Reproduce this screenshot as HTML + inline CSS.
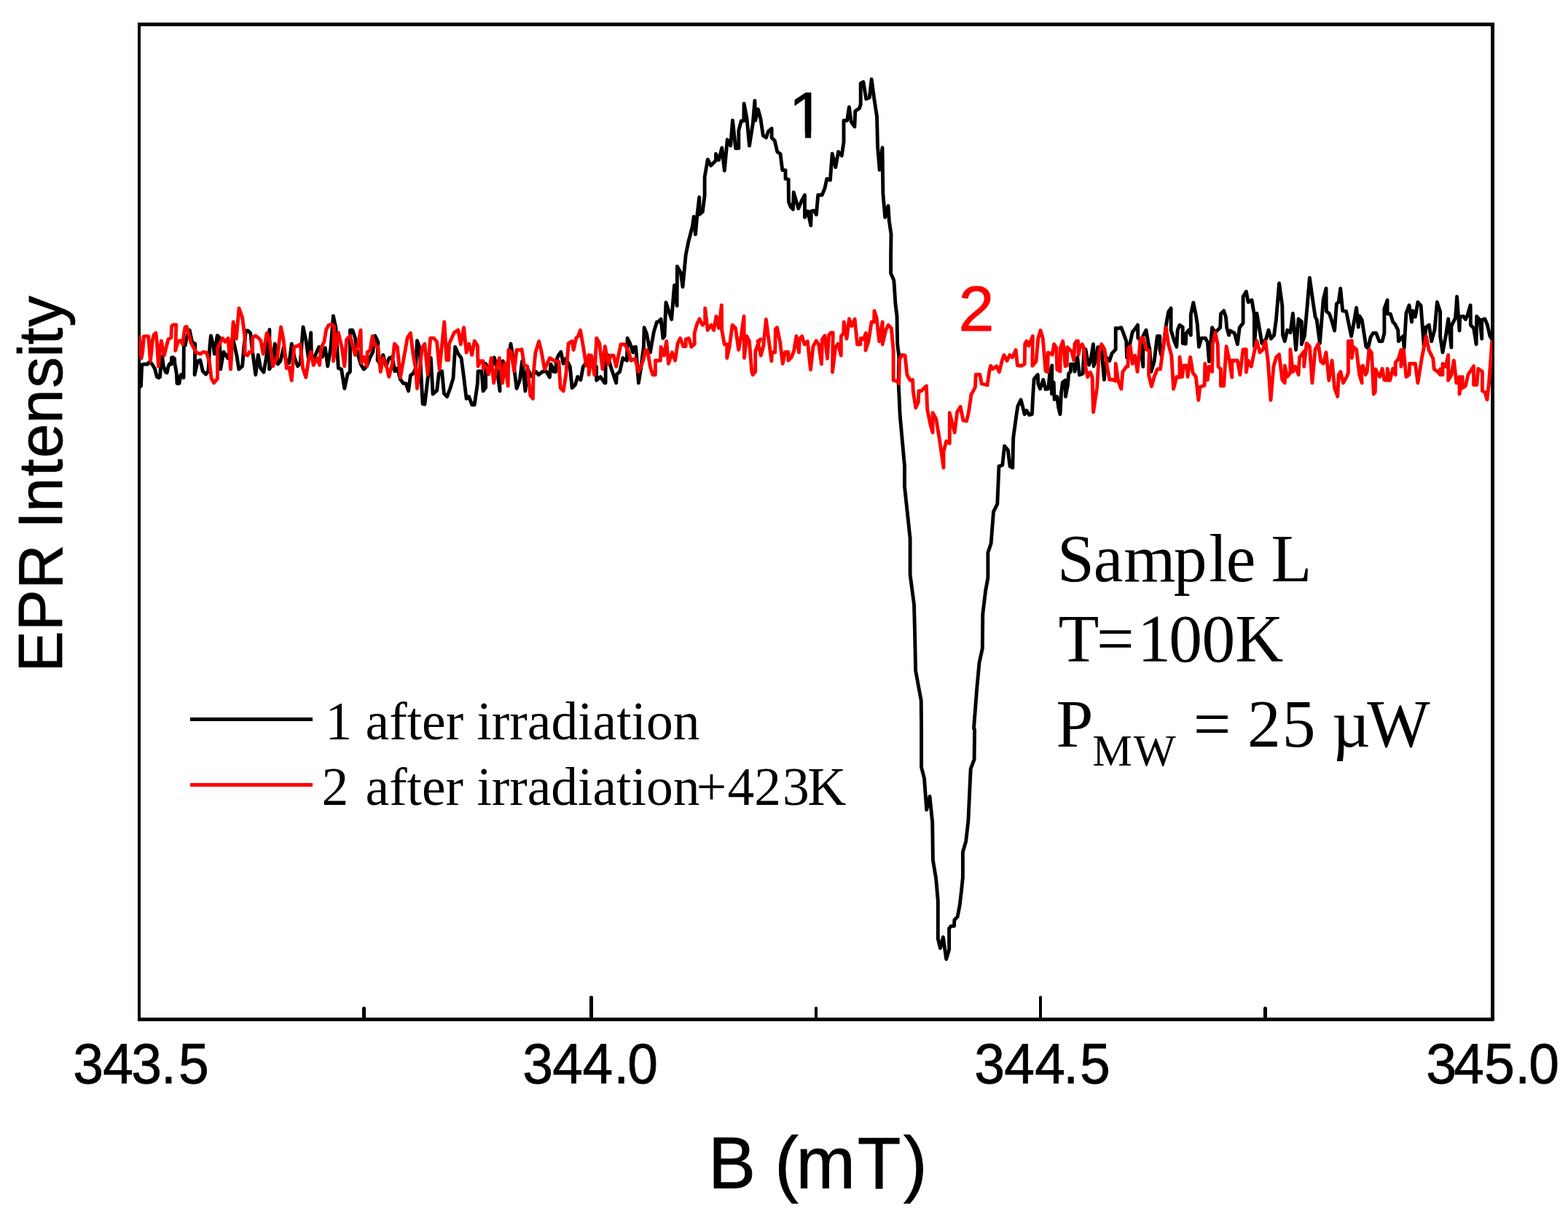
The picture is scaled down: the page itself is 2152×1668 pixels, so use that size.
<!DOCTYPE html>
<html lang="en"><head><meta charset="utf-8"><title>EPR Intensity vs B (mT)</title>
<style>
html,body{margin:0;padding:0;background:#fff;}
body{width:2152px;height:1668px;overflow:hidden;}
svg{display:block;}
text{white-space:pre;}
.sans{font-family:"Liberation Sans",Arial,Helvetica,sans-serif;stroke:currentColor;stroke-width:0.8px;stroke-linejoin:miter;}
.serif{font-family:"Liberation Serif","Times New Roman",Times,serif;}
</style></head>
<body>
<svg width="2152" height="1668" viewBox="0 0 2152 1668">
<rect width="2152" height="1668" fill="#fff"/>
<g fill="#000" shape-rendering="crispEdges">
<rect x="189" y="31" width="4" height="1371"/>
<rect x="189" y="31" width="1862" height="5"/>
<rect x="2046" y="31" width="5" height="1370"/>
<rect x="189" y="1397" width="1861" height="5"/>
<rect x="497" y="1383" width="5" height="15"/><rect x="498" y="1382" width="3" height="2"/><rect x="809" y="1368" width="5" height="30"/><rect x="810" y="1367" width="3" height="2"/><rect x="1118" y="1383" width="4" height="15"/><rect x="1119" y="1382" width="2" height="2"/><rect x="1426" y="1368" width="4" height="30"/><rect x="1427" y="1367" width="2" height="2"/><rect x="1734" y="1383" width="5" height="15"/><rect x="1735" y="1382" width="3" height="2"/>
<rect x="261" y="985" width="168" height="5"/>
<rect x="261" y="1075" width="168" height="5" fill="#f00"/>
</g>
<clipPath id="plot"><rect x="191" y="36" width="1857" height="1361"/></clipPath>
<g fill="none" stroke-linejoin="round" stroke-linecap="butt" stroke-width="4.9" clip-path="url(#plot)">
<path stroke="#000" d="M191.1,531.8 L193.5,530.0 L194.7,500.6 L198.0,500.0 L202.8,500.0 L204.0,497.6 L206.4,497.6 L208.8,500.0 L212.4,506.0 L215.4,517.4 L217.8,518.6 L219.6,517.4 L220.8,500.0 L222.6,489.2 L224.4,503.0 L227.4,510.8 L229.2,511.7 L231.0,503.0 L232.8,499.4 L235.2,500.0 L235.5,491.0 L237.0,490.4 L239.4,492.2 L240.0,500.0 L241.2,506.0 L242.4,513.8 L243.0,526.4 L244.5,526.7 L246.0,526.4 L247.8,515.0 L249.6,513.8 L252.0,518.6 L252.3,476.0 L254.4,473.6 L255.9,464.0 L260.2,453.2 L263.6,469.2 L267.8,472.0 L267.1,514.5 L271.3,495.7 L274.8,494.3 L278.3,509.6 L282.5,513.8 L285.9,509.6 L288.0,474.8 L289.4,460.9 L292.9,474.8 L294.3,485.9 L298.2,460.6 L301.3,463.6 L302.7,506.9 L306.9,483.2 L312.4,491.5 L319.4,463.6 L325.0,488.7 L327.8,506.9 L332.6,502.7 L334.7,477.6 L337.5,453.9 L340.3,453.9 L343.8,457.4 L345.9,477.6 L350.8,514.5 L354.3,487.3 L357.7,505.5 L361.9,511.0 L365.4,491.5 L369.9,452.5 L369.6,506.9 L374.5,498.5 L377.3,472.0 L381.4,499.9 L384.9,495.7 L389.1,477.6 L393.3,498.5 L396.8,498.5 L400.3,472.0 L404.4,491.5 L408.6,502.7 L412.1,498.5 L416.0,449.0 L419.8,466.4 L423.3,491.5 L426.7,456.7 L427.4,488.7 L430.9,491.5 L437.9,476.2 L442.1,490.1 L446.3,477.6 L449.7,502.7 L453.9,477.6 L457.4,433.7 L460.9,449.7 L464.4,505.5 L468.6,506.9 L472.8,533.3 L477.0,513.8 L480.5,510.3 L480.5,453.2 L483.9,453.2 L487.4,463.6 L490.9,485.9 L495.1,499.9 L499.3,506.9 L503.5,502.7 L507.6,491.5 L511.8,483.2 L514.6,460.9 L518.8,469.2 L518.1,494.3 L521.6,499.9 L525.8,487.3 L529.9,502.7 L534.1,491.5 L538.3,490.1 L541.8,509.6 L545.3,505.5 L549.5,520.8 L553.6,526.4 L557.1,526.4 L560.6,536.8 L563.4,515.2 L567.6,512.4 L570.4,505.5 L572.5,467.8 L575.9,477.6 L580.1,554.3 L582.9,555.0 L587.1,519.4 L591.3,491.5 L594.1,541.0 L599.6,536.1 L602.4,512.4 L606.6,509.6 L609.4,540.3 L613.6,544.5 L617.8,533.3 L622.0,519.4 L624.7,476.2 L628.9,485.9 L633.1,491.5 L635.9,512.4 L640.1,547.3 L643.6,544.5 L647.7,555.7 L651.2,555.7 L655.4,526.4 L656.1,509.6 L661.0,509.6 L663.1,536.8 L666.6,532.0 L666.6,499.2 L670.7,509.6 L674.2,505.5 L678.4,490.8 L681.9,505.5 L686.1,536.8 L685.4,519.4 L690.3,495.7 L693.0,505.5 L697.2,498.5 L701.0,472.0 L702.8,483.2 L705.6,505.5 L709.1,533.3 L713.3,522.2 L716.7,495.7 L720.9,536.8 L723.7,505.5 L729.3,516.6 L735.6,510.3 L739.1,514.5 L744.6,510.3 L749.5,509.6 L754.4,518.0 L755.8,499.9 L761.4,509.6 L760.0,510.3 L762.8,510.3 L763.5,495.0 L766.3,488.0 L769.8,483.1 L773.2,499.2 L776.7,492.2 L782.3,503.3 L785.1,532.6 L789.3,528.4 L792.8,517.3 L796.9,521.5 L800.4,503.3 L806.0,496.4 L813.0,500.6 L818.6,503.3 L818.6,522.2 L824.1,517.3 L829.7,525.7 L831.1,525.7 L831.1,489.4 L833.9,487.3 L838.1,503.3 L845.7,525.7 L846.4,513.8 L850.6,510.3 L854.8,491.5 L860.4,495.0 L861.1,464.3 L864.6,471.3 L868.7,483.8 L869.4,476.9 L872.6,476.2 L876.4,525.7 L879.9,503.3 L883.4,475.5 L884.1,449.7 L887.6,458.7 L890.3,472.7 L892.4,483.8 L897.3,455.9 L901.5,442.0 L903.6,442.0 L907.1,438.1 L909.9,464.3 L912.0,461.5 L914.0,415.2 L918.2,428.1 L921.7,438.5 L925.5,391.8 L929.1,419.7 L929.4,365.6 L934.3,374.4 L937.0,393.9 L941.2,350.0 L945.0,331.2 L947.1,323.3 L950.4,310.4 L952.2,297.4 L954.5,321.9 L956.8,296.0 L959.7,270.8 L960.2,294.2 L964.3,290.7 L967.1,268.4 L967.1,243.3 L971.3,218.9 L975.5,227.3 L982.5,220.3 L982.5,211.3 L986.6,219.6 L990.8,202.9 L994.3,234.3 L998.2,191.8 L1002.7,200.1 L1005.5,165.3 L1009.6,203.6 L1013.8,203.6 L1013.8,179.2 L1017.3,166.0 L1020.8,166.0 L1021.1,142.3 L1025.0,162.5 L1028.5,200.1 L1033.3,169.5 L1035.9,138.1 L1036.8,165.3 L1040.3,149.9 L1043.8,162.5 L1047.3,186.2 L1051.5,189.0 L1054.3,180.6 L1059.1,176.4 L1059.1,189.0 L1063.3,193.2 L1066.8,208.5 L1071.0,211.3 L1073.8,233.6 L1078.0,233.6 L1078.0,245.4 L1082.1,246.1 L1082.4,276.8 L1084.9,283.8 L1088.4,287.3 L1089.2,264.0 L1095.7,286.3 L1100.4,275.2 L1104.5,267.7 L1104.5,298.4 L1108.7,290.0 L1112.8,309.6 L1113.4,290.0 L1117.1,289.1 L1120.4,294.7 L1122.7,267.7 L1128.3,267.7 L1132.0,258.4 L1134.8,245.4 L1139.4,247.3 L1142.2,211.0 L1146.8,229.6 L1150.6,208.3 L1155.2,213.8 L1158.0,195.2 L1158.0,165.5 L1162.6,165.5 L1165.4,146.9 L1168.2,167.4 L1172.9,173.9 L1173.8,152.5 L1179.4,148.8 L1181.2,143.2 L1181.2,114.4 L1184.9,112.5 L1188.7,135.8 L1193.3,133.9 L1196.1,108.8 L1199.8,135.8 L1203.5,159.9 L1204.5,200.8 L1207.2,233.3 L1211.0,202.7 L1211.9,265.9 L1214.7,298.4 L1219.0,282.6 L1220.3,303.0 L1223.0,321.6 L1222.6,350.0 L1222.6,375.1 L1226.8,384.9 L1227.5,394.6 L1228.9,416.9 L1231.0,433.6 L1231.7,472.7 L1233.8,489.4 L1233.1,524.3 L1235.2,570.3 L1241.5,640.0 L1241.5,668.1 L1249.1,739.3 L1249.1,788.9 L1254.5,829.9 L1255.5,866.6 L1256.6,920.6 L1264.2,961.6 L1264.6,1000.0 L1264.6,1053.4 L1268.5,1068.5 L1271.7,1111.7 L1276.0,1093.3 L1279.7,1128.9 L1280.4,1180.7 L1284.7,1206.6 L1287.3,1236.8 L1287.3,1288.6 L1290.5,1301.6 L1294.4,1286.5 L1298.7,1316.7 L1302.6,1303.7 L1302.6,1274.6 L1305.2,1271.4 L1309.5,1271.4 L1309.9,1262.7 L1314.2,1258.4 L1317.1,1243.3 L1319.2,1226.0 L1321.4,1204.5 L1321.4,1169.9 L1325.7,1154.8 L1328.9,1126.8 L1332.2,1055.5 L1337.1,1042.6 L1337.6,1001.6 L1336.5,1000.0 L1340.8,944.3 L1344.0,909.8 L1348.3,890.4 L1348.8,842.9 L1352.7,810.5 L1355.9,793.2 L1355.9,758.7 L1360.2,745.8 L1363.5,702.6 L1368.8,691.8 L1371.0,640.0 L1371.2,640.2 L1375.8,638.4 L1378.6,612.3 L1383.3,617.9 L1386.1,640.2 L1389.8,642.1 L1390.7,601.2 L1395.1,568.7 L1396.9,557.5 L1401.1,548.7 L1403.4,557.5 L1406.2,568.7 L1409.0,563.6 L1412.7,569.6 L1416.4,568.7 L1417.8,540.8 L1419.2,520.4 L1424.3,514.3 L1424.8,526.9 L1427.6,533.8 L1431.8,521.3 L1435.0,534.3 L1438.7,533.8 L1440.6,514.8 L1443.8,501.8 L1443.4,540.8 L1446.2,525.0 L1447.1,548.3 L1450.8,544.5 L1452.7,559.4 L1455.0,568.7 L1456.4,540.8 L1458.3,525.0 L1462.0,522.2 L1462.4,544.5 L1465.7,526.9 L1466.6,512.9 L1469.4,510.1 L1469.4,499.9 L1474.1,499.9 L1475.0,510.1 L1478.7,490.6 L1481.5,514.8 L1486.1,512.9 L1488.0,479.5 L1489.9,479.5 L1492.6,494.3 L1494.5,500.9 L1497.3,492.5 L1500.5,472.5 L1501.0,502.7 L1503.8,494.3 L1506.6,476.7 L1509.8,476.7 L1512.2,485.1 L1515.4,521.3 L1516.8,503.6 L1519.6,491.6 L1522.8,495.3 L1526.1,485.1 L1531.2,479.6 L1531.2,450.4 L1533.9,451.1 L1538.8,449.7 L1542.3,458.7 L1545.8,468.5 L1546.5,490.8 L1550.0,475.5 L1554.2,455.9 L1557.6,451.8 L1561.5,446.2 L1561.8,464.3 L1564.6,465.7 L1568.8,503.3 L1568.8,461.5 L1573.0,453.2 L1575.8,469.9 L1577.9,479.6 L1579.9,510.3 L1584.1,496.4 L1588.3,461.5 L1591.8,461.5 L1591.8,479.6 L1593.9,488.0 L1596.7,475.5 L1600.2,447.6 L1603.6,428.1 L1607.1,423.2 L1607.1,453.2 L1611.3,467.1 L1614.8,476.2 L1616.2,453.2 L1619.0,446.2 L1623.2,449.0 L1623.2,471.3 L1627.3,472.0 L1628.0,457.3 L1631.5,453.2 L1634.3,460.1 L1634.3,432.2 L1637.8,415.5 L1641.3,432.2 L1643.4,446.2 L1645.5,476.2 L1648.9,464.3 L1654.5,464.3 L1657.3,469.9 L1659.4,496.4 L1663.6,449.7 L1667.8,456.6 L1674.7,449.7 L1675.4,430.9 L1679.6,426.7 L1682.4,435.0 L1683.8,450.4 L1686.6,460.1 L1688.0,453.9 L1694.3,457.3 L1698.4,472.7 L1701.2,449.7 L1706.1,443.4 L1706.1,407.2 L1710.3,400.2 L1713.1,414.8 L1718.0,412.0 L1721.4,432.2 L1721.4,475.5 L1724.9,430.2 L1728.4,450.4 L1731.9,471.3 L1737.5,465.7 L1741.0,453.2 L1744.4,465.0 L1748.6,460.1 L1751.4,439.2 L1755.6,389.0 L1759.8,419.7 L1760.5,460.1 L1763.3,468.5 L1766.7,453.2 L1770.9,456.6 L1774.4,430.2 L1778.6,480.3 L1782.1,437.8 L1786.3,441.3 L1786.3,472.7 L1790.4,461.5 L1793.9,422.5 L1797.4,381.4 L1801.6,411.3 L1805.1,435.0 L1807.2,439.2 L1811.4,471.3 L1816.2,411.3 L1820.0,396.0 L1820.4,427.4 L1824.6,430.9 L1827.4,439.2 L1831.6,453.9 L1834.4,416.9 L1837.2,414.8 L1839.7,396.0 L1842.7,426.7 L1847.6,427.4 L1854.6,461.5 L1858.8,439.2 L1861.6,422.5 L1864.3,449.0 L1865.7,433.6 L1869.2,439.2 L1874.8,475.5 L1877.6,478.3 L1881.1,462.9 L1884.6,457.3 L1888.7,457.3 L1892.9,468.5 L1897.1,468.5 L1899.9,457.3 L1899.9,423.9 L1904.1,412.0 L1904.1,430.9 L1908.3,430.9 L1911.7,442.0 L1914.5,444.8 L1918.7,453.2 L1919.4,468.5 L1925.7,461.5 L1927.1,478.3 L1929.9,430.2 L1934.0,419.0 L1937.5,442.0 L1938.9,426.7 L1942.4,435.0 L1945.9,414.8 L1950.1,419.7 L1954.3,475.5 L1957.0,449.0 L1961.2,446.2 L1964.7,468.5 L1968.9,453.2 L1972.4,414.8 L1976.6,428.1 L1976.6,461.5 L1980.0,483.8 L1984.2,461.5 L1987.7,437.8 L1991.9,476.9 L1991.9,447.6 L1997.5,436.4 L1999.6,407.2 L2003.0,453.9 L2003.7,435.0 L2008.6,434.3 L2011.4,438.5 L2014.2,432.2 L2018.1,419.0 L2018.4,446.2 L2022.6,450.4 L2026.1,472.7 L2026.7,434.3 L2030.9,439.2 L2033.7,465.0 L2033.7,439.2 L2037.9,437.8 L2041.4,446.2 L2044.9,461.5 L2047.7,465.7"/>
<path stroke="#f00" d="M191.1,460.7 L192.6,476.0 L194.1,491.9 L195.9,482.0 L197.4,461.6 L203.7,461.6 L204.9,476.0 L206.4,496.1 L207.9,482.0 L209.4,466.4 L211.2,459.8 L213.9,457.1 L215.4,470.0 L217.5,503.0 L219.3,482.0 L221.4,467.9 L223.2,479.0 L225.3,488.0 L228.0,477.2 L231.0,465.5 L234.9,463.7 L235.5,447.8 L237.6,446.0 L241.8,446.0 L240.7,481.4 L244.5,468.2 L247.8,467.6 L250.8,472.7 L252.6,458.0 L254.1,449.0 L256.2,448.4 L262.2,470.6 L269.2,483.9 L274.8,485.9 L279.0,483.2 L283.2,483.9 L287.3,495.7 L290.1,519.4 L293.6,525.7 L298.5,519.4 L298.5,477.6 L305.5,464.3 L308.9,469.2 L313.1,464.3 L316.6,506.9 L320.1,442.0 L324.3,465.0 L328.0,423.2 L332.6,435.8 L336.1,463.6 L336.1,485.9 L339.6,488.0 L342.4,483.2 L346.6,483.2 L346.6,463.6 L350.8,460.9 L354.3,463.6 L357.7,467.1 L361.2,485.9 L366.1,457.4 L369.6,463.6 L374.5,502.7 L380.7,490.1 L385.6,449.0 L389.1,466.4 L393.3,505.5 L396.8,504.1 L400.3,522.2 L403.7,476.2 L408.6,474.8 L412.1,472.7 L415.6,505.5 L419.8,518.0 L423.3,495.7 L426.7,483.2 L430.2,501.3 L435.1,491.5 L438.6,501.3 L440.7,477.6 L444.9,469.2 L447.7,452.5 L451.1,446.2 L455.3,445.5 L458.8,448.3 L457.4,495.7 L464.4,456.7 L469.3,477.6 L472.8,502.7 L475.6,466.4 L480.5,460.9 L487.4,487.3 L491.6,472.0 L495.1,453.2 L495.8,498.5 L499.3,490.1 L503.5,502.7 L504.2,483.2 L507.6,481.8 L511.1,461.6 L514.6,474.8 L518.8,476.2 L522.3,510.3 L525.8,491.5 L529.9,499.9 L533.8,517.3 L538.3,499.9 L541.4,472.0 L545.3,476.2 L549.5,518.0 L559.2,463.6 L563.4,457.4 L566.9,485.9 L570.4,505.5 L572.5,533.3 L575.9,505.5 L579.4,477.6 L582.9,472.0 L587.1,513.8 L590.6,464.3 L595.5,464.3 L599.6,469.2 L603.1,506.9 L609.8,442.0 L612.9,494.3 L615.7,494.3 L616.4,472.0 L623.3,456.7 L628.9,453.2 L632.4,472.7 L636.6,449.7 L640.1,483.9 L643.6,472.0 L647.7,487.3 L651.2,468.1 L655.4,474.8 L656.1,502.7 L659.6,495.7 L663.1,495.7 L663.1,505.5 L666.6,502.7 L670.7,513.8 L674.2,491.5 L677.7,525.7 L681.2,505.5 L685.4,491.5 L689.6,525.7 L693.0,498.5 L697.2,529.9 L697.9,480.4 L701.4,483.2 L705.6,509.6 L709.1,480.4 L713.3,480.4 L716.1,479.7 L719.5,501.3 L723.7,502.7 L727.9,543.1 L731.4,547.3 L732.1,513.8 L734.9,483.9 L739.7,468.5 L743.2,483.2 L747.4,506.9 L754.4,491.5 L759.3,494.3 L760.0,495.0 L767.0,496.4 L769.1,532.6 L773.2,536.8 L776.7,514.5 L780.2,471.3 L785.1,468.5 L787.2,480.3 L790.7,464.3 L793.5,461.5 L796.5,453.2 L800.4,475.5 L804.6,502.0 L808.1,487.3 L808.1,514.5 L811.6,488.0 L815.8,514.5 L818.8,464.3 L822.7,471.3 L826.9,506.8 L830.4,475.5 L834.6,499.9 L838.1,488.0 L842.2,488.0 L845.7,503.3 L852.0,472.7 L857.6,472.7 L863.2,483.8 L865.9,495.0 L871.5,492.2 L876.4,510.3 L882.7,495.0 L886.2,480.3 L888.9,482.4 L892.4,503.3 L895.9,514.5 L899.4,514.5 L899.4,495.0 L906.4,495.0 L907.1,476.2 L911.3,488.0 L914.7,468.5 L917.5,499.2 L922.4,483.8 L926.6,495.0 L930.1,471.3 L933.6,464.3 L937.7,475.5 L941.2,475.5 L941.2,465.7 L945.4,464.3 L948.9,476.2 L953.1,472.7 L953.1,457.3 L956.6,444.8 L960.0,437.8 L964.2,446.2 L967.7,442.0 L967.7,423.2 L971.2,453.2 L976.1,446.2 L979.6,453.2 L983.0,434.3 L986.5,450.4 L990.3,419.0 L990.7,453.2 L994.2,472.7 L997.7,472.7 L997.7,491.5 L1001.2,475.5 L1005.1,446.2 L1009.5,450.4 L1013.7,480.3 L1017.2,461.5 L1021.0,434.3 L1021.4,491.5 L1024.9,461.5 L1028.4,468.5 L1031.8,510.3 L1033.2,514.5 L1036.7,510.3 L1036.7,482.4 L1040.2,472.7 L1043.7,465.7 L1040.0,468.5 L1044.2,488.0 L1047.7,475.5 L1051.4,438.5 L1055.3,468.5 L1058.8,495.7 L1059.5,483.8 L1063.7,483.8 L1064.4,451.8 L1066.5,449.7 L1070.7,469.9 L1074.2,499.2 L1077.6,483.1 L1081.8,483.1 L1081.8,495.0 L1086.0,490.8 L1089.5,482.4 L1093.0,461.5 L1096.5,483.8 L1097.2,465.7 L1100.6,461.5 L1104.1,472.7 L1108.3,468.5 L1112.5,507.5 L1116.0,475.5 L1120.2,467.8 L1123.6,472.7 L1127.5,499.9 L1128.5,465.7 L1132.0,460.8 L1135.5,492.2 L1137.6,460.1 L1140.4,456.6 L1143.2,456.6 L1142.5,511.0 L1146.6,476.9 L1150.1,472.0 L1154.3,488.0 L1154.3,461.5 L1157.8,457.3 L1158.2,442.0 L1162.0,465.0 L1165.5,437.8 L1168.9,447.6 L1173.1,438.1 L1176.6,472.7 L1180.8,472.7 L1181.5,464.3 L1185.0,465.7 L1188.5,457.3 L1188.0,481.0 L1192.0,468.5 L1196.1,442.0 L1199.6,442.0 L1200.0,426.7 L1203.1,436.4 L1206.6,468.5 L1211.2,442.0 L1211.2,472.7 L1215.7,453.2 L1219.1,446.2 L1223.3,450.4 L1226.1,481.0 L1226.1,522.2 L1230.3,522.9 L1233.8,526.3 L1234.5,493.6 L1238.0,487.3 L1242.1,488.0 L1244.9,514.5 L1249.1,522.2 L1252.6,521.5 L1253.3,537.5 L1256.8,559.8 L1260.3,552.1 L1261.0,536.8 L1264.4,536.8 L1271.4,529.8 L1272.7,562.2 L1277.3,584.5 L1280.1,593.8 L1280.1,566.8 L1284.8,575.2 L1289.4,603.0 L1295.0,642.1 L1295.0,619.8 L1298.7,605.8 L1303.3,608.6 L1303.3,566.8 L1310.2,593.8 L1313.6,565.9 L1318.2,558.4 L1321.9,577.0 L1326.6,578.0 L1329.4,565.9 L1333.1,540.8 L1334.6,539.0 L1338.4,531.5 L1339.3,514.3 L1344.9,514.3 L1347.2,526.9 L1355.1,528.7 L1357.9,509.2 L1359.7,502.2 L1362.5,506.4 L1367.6,502.7 L1371.4,510.6 L1375.5,494.3 L1377.9,487.4 L1382.0,495.3 L1385.8,487.4 L1389.5,490.6 L1394.1,480.4 L1396.4,501.8 L1401.6,502.2 L1406.2,499.9 L1406.7,472.0 L1409.0,468.3 L1411.8,474.8 L1417.4,461.4 L1416.9,502.2 L1422.0,496.2 L1424.8,464.6 L1428.0,453.5 L1431.3,464.6 L1435.0,509.2 L1437.8,510.6 L1438.3,484.1 L1441.5,485.1 L1444.3,486.9 L1446.6,472.5 L1449.9,477.6 L1450.8,507.4 L1455.0,509.7 L1455.5,477.6 L1458.7,468.3 L1460.1,479.5 L1462.0,502.7 L1464.3,501.8 L1464.8,476.7 L1471.3,483.2 L1473.6,494.3 L1475.0,472.0 L1477.3,468.3 L1479.6,468.3 L1480.1,486.9 L1482.4,475.8 L1485.2,472.5 L1488.0,479.5 L1489.9,503.6 L1492.6,517.6 L1496.4,511.1 L1499.1,517.6 L1500.5,565.9 L1505.7,531.5 L1508.4,485.1 L1511.7,472.5 L1515.9,479.5 L1519.6,503.6 L1522.8,521.3 L1527.0,521.3 L1531.2,522.9 L1531.2,499.2 L1534.6,522.9 L1538.8,534.0 L1540.9,510.3 L1545.8,503.3 L1547.9,503.3 L1548.6,478.3 L1551.4,475.5 L1554.2,499.2 L1557.6,488.0 L1561.1,510.3 L1565.3,464.3 L1568.8,463.6 L1573.0,479.6 L1577.2,481.7 L1576.5,514.5 L1580.4,530.5 L1584.1,517.3 L1588.3,506.8 L1592.5,506.8 L1600.2,449.7 L1603.6,472.7 L1607.8,488.0 L1610.6,534.0 L1614.8,517.3 L1619.0,518.0 L1619.0,490.1 L1622.5,517.3 L1624.6,502.0 L1628.7,502.0 L1630.1,517.3 L1633.6,490.1 L1637.1,511.7 L1641.3,517.3 L1644.8,549.3 L1646.9,531.2 L1653.1,529.1 L1653.8,499.2 L1657.3,521.5 L1659.4,503.3 L1663.6,510.3 L1664.3,472.7 L1667.8,456.6 L1671.3,472.7 L1672.0,503.3 L1675.4,506.8 L1675.4,529.8 L1679.6,529.8 L1683.1,475.5 L1687.3,495.0 L1690.8,518.0 L1690.8,495.0 L1698.4,495.0 L1701.9,514.5 L1706.1,479.6 L1710.3,479.6 L1710.3,511.0 L1713.1,495.0 L1717.3,503.3 L1720.7,486.6 L1724.9,467.8 L1729.1,483.8 L1733.3,479.6 L1736.8,468.5 L1740.3,496.4 L1744.0,549.3 L1747.9,503.3 L1751.4,490.8 L1755.6,486.6 L1759.8,521.5 L1763.3,525.7 L1763.3,502.0 L1766.7,517.3 L1770.9,511.7 L1770.9,479.6 L1774.4,510.3 L1777.9,503.3 L1782.1,514.5 L1783.5,490.8 L1789.7,482.4 L1789.7,503.3 L1793.2,471.3 L1797.4,475.5 L1800.9,525.7 L1805.1,479.6 L1809.3,472.0 L1812.8,496.4 L1816.2,499.2 L1820.0,483.8 L1823.9,522.2 L1828.1,495.0 L1831.6,532.6 L1835.8,544.5 L1837.2,514.5 L1839.9,510.3 L1843.4,525.7 L1848.3,517.3 L1850.4,511.7 L1850.4,468.5 L1855.3,467.8 L1855.3,491.5 L1857.4,476.2 L1861.6,479.6 L1865.7,514.5 L1869.2,525.7 L1867.8,504.0 L1870.6,502.0 L1874.1,514.5 L1876.2,510.3 L1879.0,479.6 L1882.5,484.5 L1885.3,541.0 L1887.3,538.2 L1888.0,506.8 L1891.5,514.5 L1893.6,517.3 L1897.1,506.1 L1899.9,521.5 L1904.1,522.2 L1904.1,506.1 L1907.6,522.2 L1911.7,506.1 L1915.2,514.5 L1915.2,497.8 L1919.4,492.2 L1922.9,480.3 L1922.9,503.3 L1926.4,480.3 L1929.9,517.3 L1934.0,514.5 L1934.7,499.2 L1942.4,499.2 L1945.9,525.7 L1951.5,490.8 L1957.3,461.5 L1961.2,481.0 L1966.8,492.2 L1968.2,506.8 L1973.1,510.3 L1976.6,514.5 L1976.6,506.8 L1980.0,514.5 L1980.0,499.2 L1984.2,503.3 L1987.7,487.3 L1987.7,522.2 L1991.9,514.5 L1995.4,495.0 L1998.9,525.7 L2003.0,517.3 L2003.0,541.0 L2007.2,517.3 L2007.2,532.6 L2011.4,529.8 L2014.9,514.5 L2022.6,502.6 L2022.6,528.4 L2026.7,528.4 L2028.8,506.1 L2034.4,510.3 L2034.4,536.8 L2037.9,538.2 L2041.0,548.7 L2043.5,525.7 L2046.3,489.4 L2047.7,467.1"/>
</g>
<g fill="#000">
<text class="sans" transform="translate(0,1487.1) scale(1.0,1.031)" x="100.30 141.30 180.30 221.00 245.10" y="0" font-size="75">343.5</text>
<text class="sans" transform="translate(0,1487.1) scale(1.0,1.031)" x="717.20 758.20 799.40 842.30 861.20" y="0" font-size="75">344.0</text>
<text class="sans" transform="translate(0,1487.1) scale(1.0,1.031)" x="1337.20 1378.20 1420.20 1459.20 1482.00" y="0" font-size="75">344.5</text>
<text class="sans" transform="translate(0,1487.1) scale(1.0,1.031)" x="1957.20 1995.20 2037.10 2079.30 2098.20" y="0" font-size="75">345.0</text>
<text class="sans" transform="translate(0,1630.7) scale(1.0,1.015)" x="972.06 1037.23 1063.20 1092.50 1176.70 1240.10" y="0" font-size="97.7">B (mT)</text>
<text class="sans" transform="translate(85.1,0) rotate(-90) scale(1,1.012)" x="-922.75 -866.05 -808.75 -747.58 -725.80 -702.70 -653.70 -628.70 -581.40 -532.50 -490.60 -473.30 -448.50" y="0" font-size="84.7">EPR Intensity</text>
<clipPath id="c1"><rect x="1090.5" y="120" width="23" height="61.5"/><rect x="1105" y="120" width="8.1" height="70"/></clipPath>
<g clip-path="url(#c1)"><text class="sans" transform="translate(0,188.9) scale(1.09,1.0414)" x="992.39" y="0" font-size="85">1</text></g>
<text class="sans" transform="translate(0,454.06) scale(1.0,1.0)" x="1315.50" y="0" font-size="88" fill="#f00" color="#f00">2</text>
<text class="serif" transform="translate(0,798.0) scale(1.0,1.02)" x="1451.00 1500.70 1542.30 1610.70 1659.30 1682.70 1723.31 1744.50" y="0" font-size="91.5">Sample L</text>
<text class="serif" transform="translate(0,907.7) scale(1.0,1.012)" x="1452.40 1505.00 1561.30 1604.30 1649.60 1695.30" y="0" font-size="91.5">T=100K</text>
<text class="serif" transform="translate(0,1025.0) scale(1,1.012)" font-size="91.5"><tspan x="1449.4" y="0">P</tspan><tspan x="1499.20 1555.70" y="25.6" font-size="61.5">MW</tspan><tspan x="1614.90 1637.80 1689.40 1711.90 1759.80 1805.55 1827.90 1876.20" y="0"> = 25 µW</tspan></text>
<text class="serif" transform="translate(0,1014.7) scale(1.0,1.02)" x="446.50 483.23 501.59 534.19 558.65 579.05 611.65 636.11 654.48 674.88 699.34 723.80 756.40 793.13 813.53 846.14 866.54 886.95 923.67" y="0" font-size="73.45">1 after irradiation</text>
<text class="serif" transform="translate(0,1104.7) scale(1.0,1.02)" x="441.60 483.20 501.56 534.16 558.62 579.03 611.63 636.09 654.45 674.86 699.32 723.78 756.38 793.10 813.51 846.11 866.52 886.92 923.65 955.80 998.60 1035.20 1074.10 1108.30" y="0" font-size="73.45">2 after irradiation+423K</text>
</g>
</svg>
</body></html>
